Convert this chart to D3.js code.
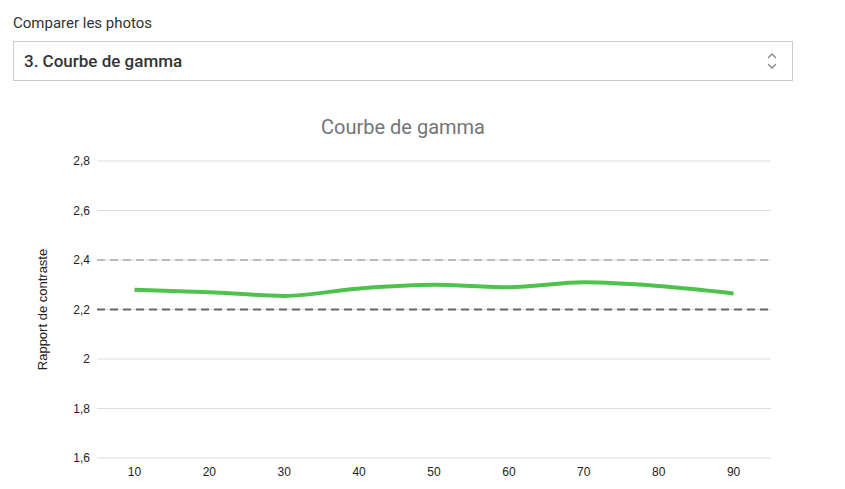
<!DOCTYPE html>
<html><head><meta charset="utf-8">
<script src="https://cdn.jsdelivr.net/npm/d3@7"></script>
<style>
body { margin:0; background:#fff; font-family: Roboto, Arial, sans-serif; }
.lbl { position:absolute; left:13px; top:14px; font-size:15px; color:#333; }
.sel { position:absolute; left:13px; top:41px; width:780px; height:40px; border:1px solid #ccc; box-sizing:border-box; }
.sel span { position:absolute; left:10px; top:9px; font-size:17px; font-weight:500; color:#333; }
svg { position:absolute; left:0; top:0; }
</style></head>
<body>
<div class="lbl">Comparer les photos</div>
<div class="sel"><span>3. Courbe de gamma</span></div>
<svg id="chart" width="845" height="489"></svg>
<script>
const xValues = [10, 20, 30, 40, 50, 60, 70, 80, 90];
const gammaValues = [2.28, 2.27, 2.255, 2.285, 2.30, 2.29, 2.31, 2.295, 2.265];
const refLines = [{v: 2.4, color: '#bbb'}, {v: 2.2, color: '#666'}];
const yTicks = [1.6, 1.8, 2.0, 2.2, 2.4, 2.6, 2.8];

const svg = d3.select('#chart');
const x = d3.scaleLinear().domain([5, 95]).range([97, 771]);
const y = d3.scaleLinear().domain([1.6, 2.8]).range([458, 161]);
const fmt = d => d3.format('.1~f')(d).replace('.', ',');

// chevrons in select box
svg.append('path').attr('d', 'M768 58 l4 -4 l4 4 M768 64 l4 4 l4 -4')
  .attr('fill', 'none').attr('stroke', '#888').attr('stroke-width', 1.3);

svg.append('text').attr('x', 403).attr('y', 134).attr('text-anchor', 'middle')
  .attr('font-size', 20).attr('fill', '#757575').text('Courbe de gamma');

svg.append('g').selectAll('line').data(yTicks).join('line')
  .attr('x1', 97).attr('x2', 771).attr('y1', d => y(d)).attr('y2', d => y(d))
  .attr('stroke', '#ddd');

svg.append('g').selectAll('text').data(yTicks).join('text')
  .attr('x', 90).attr('y', d => y(d) + 4).attr('text-anchor', 'end')
  .attr('font-size', 12).attr('font-family', 'Arial, Liberation Sans, sans-serif').attr('fill', '#222')
  .text(fmt);

svg.append('g').selectAll('text').data(xValues).join('text')
  .attr('x', d => x(d)).attr('y', 476).attr('text-anchor', 'middle')
  .attr('font-size', 12).attr('font-family', 'Arial, Liberation Sans, sans-serif').attr('fill', '#222')
  .text(d => d);

svg.append('text').attr('transform', `translate(47,${y(2.2)}) rotate(-90)`)
  .attr('text-anchor', 'middle').attr('font-size', 13)
  .attr('font-family', 'Arial, Liberation Sans, sans-serif').attr('fill', '#222')
  .text('Rapport de contraste');

svg.append('g').selectAll('line').data(refLines).join('line')
  .attr('x1', 97).attr('x2', 771).attr('y1', d => y(d.v)).attr('y2', d => y(d.v))
  .attr('stroke', d => d.color).attr('stroke-width', 2).attr('stroke-dasharray', '8,5');

const line = d3.line().x((d, i) => x(xValues[i])).y(d => y(d)).curve(d3.curveMonotoneX);
svg.append('path').datum(gammaValues).attr('d', line)
  .attr('fill', 'none').attr('stroke', '#4dc34d').attr('stroke-width', 4);
</script>
</body></html>
